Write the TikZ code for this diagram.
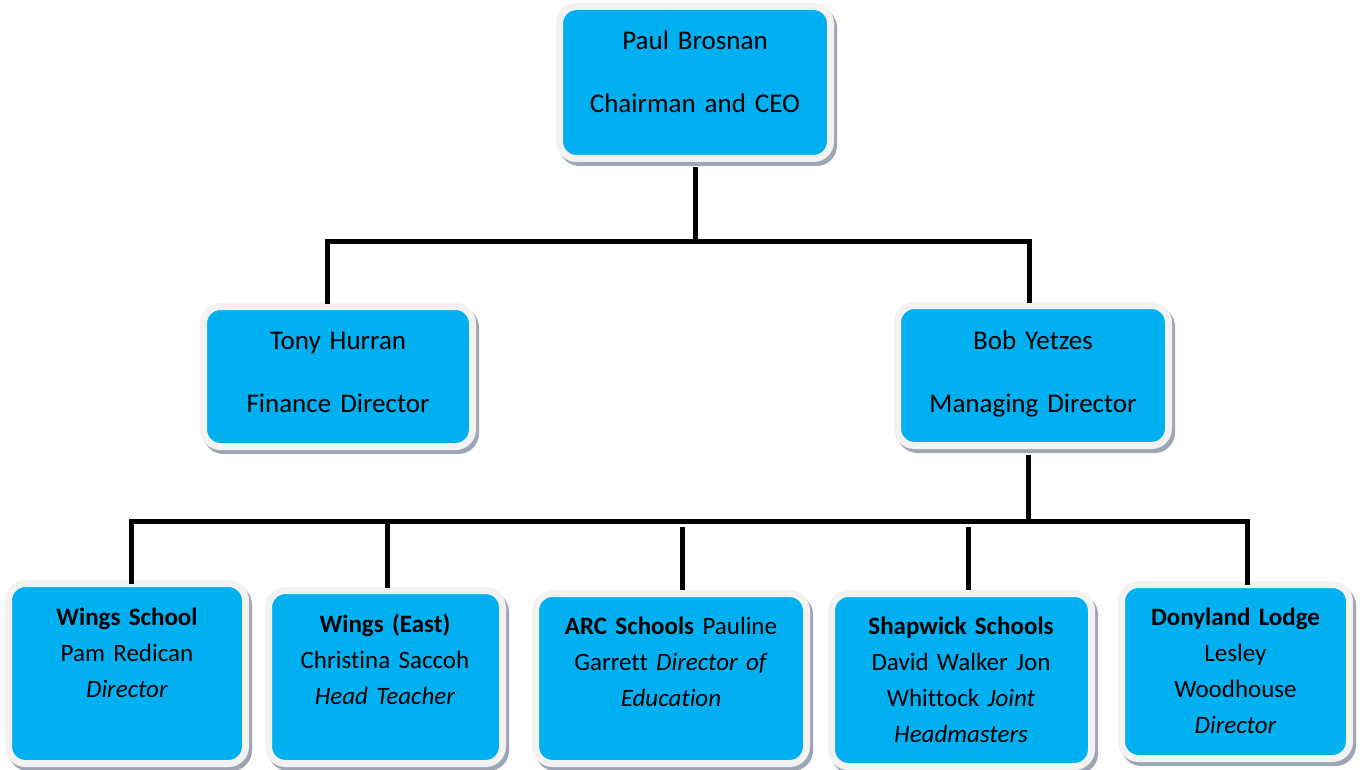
\documentclass[tikz,border=0pt]{standalone}
\usepackage{fontspec}
\setmainfont{Carlito}[Ligatures=NoCommon]
\definecolor{boxblue}{RGB}{0,176,240}
\definecolor{rimgray}{RGB}{242,242,242}
\definecolor{shadegray}{RGB}{158,166,182}
\begin{document}
\begin{tikzpicture}[x=1pt,y=-1pt,
  card/.style={rectangle, rounded corners=17pt, fill=boxblue, draw=rimgray,
    line width=7pt, inner sep=0pt,
    preaction={draw=shadegray, fill=shadegray, line width=7pt,
      transform canvas={shift={(3pt,-4pt)}}}},
  headtext/.style={anchor=base, text width=320pt, align=center, inner sep=0pt,
    font=\fontsize{27}{63}\selectfont},
  unittext/.style={anchor=base, text width=320pt, align=center, inner sep=0pt,
    font=\fontsize{25}{36}\selectfont},
  link/.style={line width=5pt, black}]
\useasboundingbox (0,0) rectangle (1363,770);

% boxes
\node[card, minimum width=271pt, minimum height=152pt] (ceo) at (695,82.5) {};
\node[card, minimum width=269pt, minimum height=140pt] (tony) at (338,376.5) {};
\node[card, minimum width=271pt, minimum height=140pt] (bob) at (1033,375.5) {};
\node[card, minimum width=237pt, minimum height=180pt] (wings) at (127,673.5) {};
\node[card, minimum width=234pt, minimum height=173pt] (east) at (385.5,677) {};
\node[card, minimum width=271pt, minimum height=170pt] (arc) at (671,678.5) {};
\node[card, minimum width=260pt, minimum height=173pt] (shap) at (961.5,680) {};
\node[card, minimum width=228pt, minimum height=174pt] (dony) at (1235.5,671.5) {};

% texts
\node[headtext] (ceoT) at (695,50) {Paul Brosnan\\Chairman and CEO};
\node[headtext] (tonyT) at (338,349) {Tony Hurran\\Finance Director};
\node[headtext] (bobT) at (1033,349) {Bob Yetzes\\Managing Director};
\node[unittext] (wingsT) at (127,625) {\textbf{Wings School}\\Pam Redican\\\textit{Director}};
\node[unittext] (eastT) at (385,632) {\textbf{Wings (East)}\\Christina Saccoh\\\textit{Head Teacher}};
\node[unittext] (arcT) at (671,634) {\textbf{ARC Schools} Pauline\\Garrett \textit{Director of}\\\textit{Education}};
\node[unittext] (shapT) at (961,634) {\textbf{Shapwick Schools}\\David Walker Jon\\Whittock \textit{Joint}\\\textit{Headmasters}};
\node[unittext] (donyT) at (1235.5,625) {\textbf{Donyland Lodge}\\Lesley\\Woodhouse\\\textit{Director}};

% connector levels
\coordinate (topbus) at (0,242);
\coordinate (lowbus) at (0,521);
\coordinate (lowgap) at (0,527);

% attachment points on the boxes
\coordinate (ceoOut) at ([yshift=-5pt]ceo.south);
\coordinate (tonyIn) at ([xshift=-11pt,yshift=-0.5pt]tony.north);
\coordinate (bobIn) at ([xshift=-4pt,yshift=-0.5pt]bob.north);
\coordinate (bobOut) at ([xshift=-4.5pt,yshift=-6pt]bob.south);
\coordinate (wingsIn) at ([xshift=4pt,yshift=-4pt]wings.north);
\coordinate (eastIn) at ([xshift=1.5pt,yshift=-1pt]east.north);
\coordinate (arcIn) at ([xshift=11pt]arc.north);
\coordinate (shapIn) at ([xshift=6.5pt]shap.north);
\coordinate (donyIn) at ([xshift=11.5pt,yshift=-3.5pt]dony.north);

% upper tier
\draw[link] (ceoOut) -- (ceoOut |- topbus);
\draw[link] (tonyIn) |- (bobIn |- topbus) -- (bobIn);

% lower tier
\draw[link] (bobOut) -- (bobOut |- lowbus);
\draw[link] (wingsIn) |- (donyIn |- lowbus) -- (donyIn);
\draw[link] (eastIn) -- (eastIn |- lowbus);
\draw[link] (arcIn |- lowgap) -- (arcIn);
\draw[link] (shapIn |- lowgap) -- (shapIn);
\end{tikzpicture}
\end{document}
